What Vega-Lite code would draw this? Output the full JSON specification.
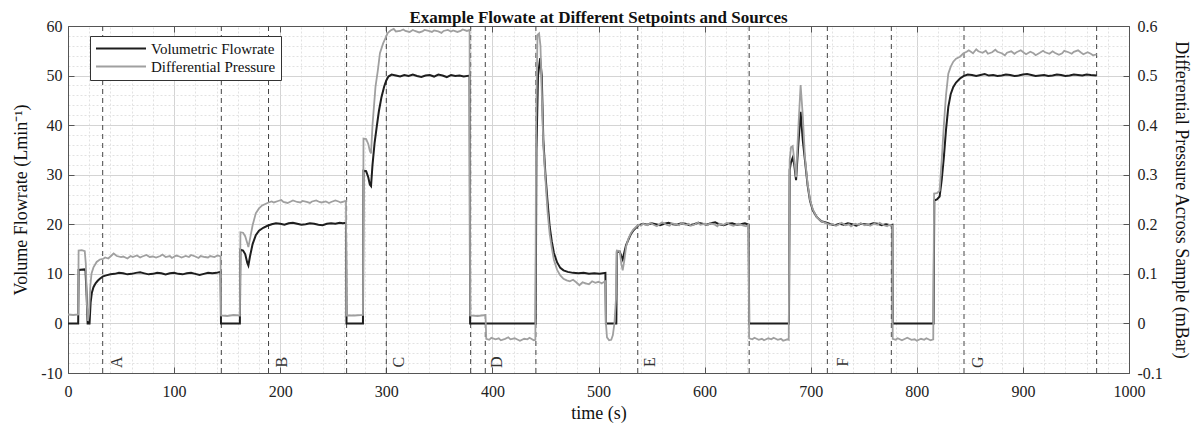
{
  "$schema": "https://vega.github.io/schema/vega-lite/v6.json",
  "width": 1061,
  "height": 347,
  "autosize": {"type": "none"},
  "padding": {"left": 68, "top": 26, "right": 66, "bottom": 52},
  "background": "white",
  "title": {"text": "Example Flowate at Different Setpoints and Sources", "font": "Liberation Serif", "fontSize": 17, "fontWeight": "bold", "color": "#111", "anchor": "middle", "frame": "group", "offset": -9},
  "config": {
    "view": {"stroke": "#555", "strokeWidth": 1},
    "axis": {"labelFont": "Liberation Serif", "titleFont": "Liberation Serif", "labelFontSize": 16, "titleFontSize": 18, "titleFontWeight": "normal", "labelColor": "#222", "titleColor": "#111", "domainColor": "#555", "tickColor": "#555", "labelFlush": false, "labelOverlap": false}
  },
  "datasets": {
    "events": [{"t": 32.7}, {"t": 144.5}, {"t": 189}, {"t": 262.6}, {"t": 300}, {"t": 379.5}, {"t": 393.3}, {"t": 441}, {"t": 537}, {"t": 642}, {"t": 715.7}, {"t": 776}, {"t": 844.5}, {"t": 969.5}],
    "labels": [{"t": 46, "v": -7.8, "s": "A"}, {"t": 202, "v": -7.8, "s": "B"}, {"t": 311.5, "v": -7.8, "s": "C"}, {"t": 404, "v": -7.8, "s": "D"}, {"t": 548.5, "v": -7.8, "s": "E"}, {"t": 730.5, "v": -7.8, "s": "F"}, {"t": 858, "v": -7.8, "s": "G"}],
    "flow": [
      {"t": 0, "v": 0}, {"t": 9.6, "v": 0}, {"t": 10, "v": 10.8}, {"t": 15.8, "v": 10.9}, {"t": 16.5, "v": 10.6}, {"t": 17.5, "v": 6}, {"t": 18.5, "v": 0}, {"t": 20.3, "v": 0}, {"t": 21.3, "v": 4.2}, {"t": 22.5, "v": 6.2}, {"t": 24, "v": 7.3}, {"t": 26, "v": 8.1}, {"t": 28, "v": 8.6}, {"t": 30, "v": 9.0}, {"t": 33, "v": 9.5}, {"t": 36, "v": 9.7}, {"t": 40, "v": 9.9}, {"t": 44, "v": 10.0}, {"t": 48, "v": 10.2}, {"t": 52, "v": 10.1}, {"t": 56, "v": 9.9}, {"t": 60, "v": 10.0}, {"t": 64, "v": 10.2}, {"t": 68, "v": 10.3}, {"t": 72, "v": 10.1}, {"t": 76, "v": 9.9}, {"t": 80, "v": 10.0}, {"t": 84, "v": 10.2}, {"t": 88, "v": 10.1}, {"t": 92, "v": 9.9}, {"t": 96, "v": 10.1}, {"t": 100, "v": 10.2}, {"t": 104, "v": 10.0}, {"t": 108, "v": 9.9}, {"t": 112, "v": 10.1}, {"t": 116, "v": 10.2}, {"t": 120, "v": 10.0}, {"t": 124, "v": 9.8}, {"t": 128, "v": 10.0}, {"t": 132, "v": 10.2}, {"t": 136, "v": 10.1}, {"t": 140, "v": 10.2}, {"t": 143.8, "v": 10.4}, {"t": 144.2, "v": 0},
      {"t": 162, "v": 0}, {"t": 162.5, "v": 14.9}, {"t": 165, "v": 14.7}, {"t": 167, "v": 14.0}, {"t": 169, "v": 12.2}, {"t": 170, "v": 11.7}, {"t": 171.5, "v": 13.5}, {"t": 174, "v": 16.0}, {"t": 177, "v": 17.8}, {"t": 180, "v": 18.7}, {"t": 184, "v": 19.3}, {"t": 188, "v": 19.7}, {"t": 192, "v": 20.0}, {"t": 196, "v": 20.2}, {"t": 200, "v": 20.1}, {"t": 204, "v": 19.9}, {"t": 208, "v": 20.2}, {"t": 212, "v": 20.3}, {"t": 216, "v": 20.1}, {"t": 220, "v": 19.9}, {"t": 224, "v": 20.0}, {"t": 228, "v": 20.2}, {"t": 232, "v": 20.1}, {"t": 236, "v": 19.9}, {"t": 240, "v": 19.8}, {"t": 244, "v": 20.1}, {"t": 248, "v": 20.2}, {"t": 252, "v": 20.1}, {"t": 256, "v": 20.3}, {"t": 259, "v": 20.2}, {"t": 262, "v": 20.3}, {"t": 262.5, "v": 0},
      {"t": 278, "v": 0}, {"t": 278.5, "v": 30.8}, {"t": 281, "v": 30.7}, {"t": 283, "v": 29.5}, {"t": 284.5, "v": 28}, {"t": 285.6, "v": 27.7}, {"t": 287, "v": 32}, {"t": 289, "v": 36.5}, {"t": 291, "v": 39.7}, {"t": 293, "v": 42.8}, {"t": 295.5, "v": 45.7}, {"t": 298, "v": 47.8}, {"t": 300, "v": 49.0}, {"t": 302, "v": 49.8}, {"t": 305, "v": 50.2}, {"t": 309, "v": 50.0}, {"t": 313, "v": 49.8}, {"t": 317, "v": 50.1}, {"t": 321, "v": 49.9}, {"t": 325, "v": 50.2}, {"t": 329, "v": 49.9}, {"t": 333, "v": 49.7}, {"t": 337, "v": 50.0}, {"t": 341, "v": 50.1}, {"t": 345, "v": 49.8}, {"t": 349, "v": 50.2}, {"t": 353, "v": 50.0}, {"t": 357, "v": 49.7}, {"t": 361, "v": 50.1}, {"t": 365, "v": 49.9}, {"t": 369, "v": 50.0}, {"t": 373, "v": 49.8}, {"t": 378.5, "v": 50.0}, {"t": 379, "v": 0},
      {"t": 440.8, "v": 0}, {"t": 441.5, "v": 35}, {"t": 443, "v": 50}, {"t": 445, "v": 53.5}, {"t": 446.5, "v": 50}, {"t": 448, "v": 37}, {"t": 450, "v": 30}, {"t": 452, "v": 24.5}, {"t": 454, "v": 19.5}, {"t": 456, "v": 16.5}, {"t": 458, "v": 14.2}, {"t": 461, "v": 12.3}, {"t": 464, "v": 11.2}, {"t": 467, "v": 10.7}, {"t": 471, "v": 10.4}, {"t": 476, "v": 10.2}, {"t": 481, "v": 10.1}, {"t": 486, "v": 10.2}, {"t": 491, "v": 10.0}, {"t": 496, "v": 10.1}, {"t": 501, "v": 10.0}, {"t": 506.5, "v": 10.2}, {"t": 507, "v": 0},
      {"t": 516.8, "v": 0}, {"t": 517.3, "v": 14.4}, {"t": 520, "v": 14.5}, {"t": 521.5, "v": 13.6}, {"t": 522.8, "v": 12.9}, {"t": 524.2, "v": 14.2}, {"t": 526, "v": 15.8}, {"t": 528, "v": 16.8}, {"t": 530.5, "v": 18.0}, {"t": 533, "v": 18.8}, {"t": 537.5, "v": 19.8}, {"t": 542, "v": 20.1}, {"t": 546, "v": 19.9}, {"t": 550, "v": 20.2}, {"t": 554, "v": 20.0}, {"t": 558, "v": 19.8}, {"t": 562, "v": 20.1}, {"t": 566, "v": 20.3}, {"t": 570, "v": 20.0}, {"t": 574, "v": 19.9}, {"t": 578, "v": 20.2}, {"t": 582, "v": 20.1}, {"t": 586, "v": 19.8}, {"t": 590, "v": 20.0}, {"t": 594, "v": 20.3}, {"t": 598, "v": 20.1}, {"t": 602, "v": 19.9}, {"t": 606, "v": 20.2}, {"t": 610, "v": 20.4}, {"t": 614, "v": 20.0}, {"t": 618, "v": 19.8}, {"t": 622, "v": 20.1}, {"t": 626, "v": 20.2}, {"t": 630, "v": 19.9}, {"t": 634, "v": 20.0}, {"t": 638, "v": 20.2}, {"t": 641.5, "v": 19.9}, {"t": 642, "v": 0},
      {"t": 679.5, "v": 0}, {"t": 680.2, "v": 31}, {"t": 681.5, "v": 32.6}, {"t": 683, "v": 33.4}, {"t": 684.5, "v": 32}, {"t": 686.2, "v": 28.9}, {"t": 688, "v": 35}, {"t": 690.5, "v": 42.7}, {"t": 692.5, "v": 37}, {"t": 694.6, "v": 32.9}, {"t": 697, "v": 28}, {"t": 699.3, "v": 24.8}, {"t": 702, "v": 22.8}, {"t": 705.6, "v": 21.5}, {"t": 710, "v": 20.6}, {"t": 715, "v": 20.3}, {"t": 719, "v": 20.0}, {"t": 723, "v": 19.8}, {"t": 727, "v": 20.1}, {"t": 731, "v": 19.9}, {"t": 735, "v": 20.2}, {"t": 739, "v": 20.0}, {"t": 743, "v": 19.7}, {"t": 747, "v": 20.1}, {"t": 751, "v": 20.0}, {"t": 755, "v": 19.9}, {"t": 759, "v": 20.2}, {"t": 763, "v": 20.1}, {"t": 767, "v": 19.8}, {"t": 771, "v": 20.0}, {"t": 775, "v": 19.8}, {"t": 777, "v": 19.9}, {"t": 777.3, "v": 0},
      {"t": 815.8, "v": 0}, {"t": 816.5, "v": 24.8}, {"t": 819, "v": 25.0}, {"t": 821.5, "v": 25.6}, {"t": 823.5, "v": 29}, {"t": 825.5, "v": 33.5}, {"t": 827.5, "v": 39}, {"t": 829.7, "v": 43.7}, {"t": 832, "v": 46.3}, {"t": 834.4, "v": 47.7}, {"t": 837, "v": 48.6}, {"t": 840.7, "v": 49.4}, {"t": 844, "v": 49.9}, {"t": 848, "v": 50.2}, {"t": 852, "v": 50.1}, {"t": 856, "v": 49.9}, {"t": 860, "v": 50.1}, {"t": 864, "v": 50.3}, {"t": 868, "v": 50.0}, {"t": 872, "v": 50.1}, {"t": 876, "v": 49.9}, {"t": 880, "v": 50.0}, {"t": 884, "v": 50.2}, {"t": 888, "v": 50.1}, {"t": 892, "v": 49.9}, {"t": 896, "v": 50.0}, {"t": 900, "v": 50.2}, {"t": 904, "v": 50.3}, {"t": 908, "v": 50.1}, {"t": 912, "v": 49.9}, {"t": 916, "v": 50.0}, {"t": 920, "v": 50.1}, {"t": 924, "v": 49.9}, {"t": 928, "v": 50.0}, {"t": 932, "v": 50.2}, {"t": 936, "v": 50.1}, {"t": 940, "v": 49.9}, {"t": 944, "v": 50.0}, {"t": 948, "v": 50.2}, {"t": 952, "v": 50.1}, {"t": 956, "v": 50.0}, {"t": 960, "v": 50.2}, {"t": 964, "v": 50.1}, {"t": 969.5, "v": 50.0}
    ],
    "dp": [
      {"t": 0, "p": 0.018}, {"t": 5, "p": 0.017}, {"t": 9.6, "p": 0.018}, {"t": 10, "p": 0.147}, {"t": 13, "p": 0.148}, {"t": 15.8, "p": 0.146}, {"t": 16.8, "p": 0.12}, {"t": 17.8, "p": 0.04}, {"t": 18.8, "p": 0.005}, {"t": 19.8, "p": 0.02}, {"t": 21, "p": 0.075}, {"t": 22.2, "p": 0.101}, {"t": 24, "p": 0.113}, {"t": 27, "p": 0.124}, {"t": 30, "p": 0.129}, {"t": 33, "p": 0.130}, {"t": 35, "p": 0.133}, {"t": 38, "p": 0.131}, {"t": 41, "p": 0.137}, {"t": 43, "p": 0.141}, {"t": 46, "p": 0.136}, {"t": 50, "p": 0.134}, {"t": 52, "p": 0.135}, {"t": 56, "p": 0.131}, {"t": 59, "p": 0.136}, {"t": 61, "p": 0.134}, {"t": 65, "p": 0.137}, {"t": 68, "p": 0.133}, {"t": 70, "p": 0.135}, {"t": 74, "p": 0.138}, {"t": 77, "p": 0.134}, {"t": 80, "p": 0.135}, {"t": 83, "p": 0.133}, {"t": 87, "p": 0.136}, {"t": 89, "p": 0.139}, {"t": 92, "p": 0.134}, {"t": 96, "p": 0.136}, {"t": 98, "p": 0.132}, {"t": 102, "p": 0.137}, {"t": 105, "p": 0.135}, {"t": 107, "p": 0.133}, {"t": 111, "p": 0.136}, {"t": 114, "p": 0.134}, {"t": 116, "p": 0.138}, {"t": 120, "p": 0.135}, {"t": 123, "p": 0.132}, {"t": 125, "p": 0.136}, {"t": 129, "p": 0.134}, {"t": 132, "p": 0.133}, {"t": 134, "p": 0.136}, {"t": 138, "p": 0.134}, {"t": 141, "p": 0.137}, {"t": 143.8, "p": 0.135}, {"t": 144.2, "p": 0.016}, {"t": 150, "p": 0.015}, {"t": 156, "p": 0.017}, {"t": 162, "p": 0.016},
      {"t": 162.5, "p": 0.184}, {"t": 165, "p": 0.183}, {"t": 167, "p": 0.176}, {"t": 169, "p": 0.162}, {"t": 170, "p": 0.154}, {"t": 171.5, "p": 0.170}, {"t": 174, "p": 0.198}, {"t": 177, "p": 0.222}, {"t": 180, "p": 0.232}, {"t": 183, "p": 0.238}, {"t": 186, "p": 0.241}, {"t": 189, "p": 0.244}, {"t": 192, "p": 0.246}, {"t": 194, "p": 0.244}, {"t": 198, "p": 0.247}, {"t": 201, "p": 0.249}, {"t": 203, "p": 0.245}, {"t": 207, "p": 0.243}, {"t": 210, "p": 0.246}, {"t": 212, "p": 0.248}, {"t": 216, "p": 0.245}, {"t": 219, "p": 0.244}, {"t": 221, "p": 0.247}, {"t": 225, "p": 0.245}, {"t": 228, "p": 0.243}, {"t": 230, "p": 0.246}, {"t": 234, "p": 0.248}, {"t": 237, "p": 0.245}, {"t": 239, "p": 0.244}, {"t": 243, "p": 0.246}, {"t": 246, "p": 0.243}, {"t": 248, "p": 0.245}, {"t": 252, "p": 0.248}, {"t": 255, "p": 0.246}, {"t": 257, "p": 0.244}, {"t": 262, "p": 0.247}, {"t": 262.5, "p": 0.016}, {"t": 270, "p": 0.016}, {"t": 278, "p": 0.017},
      {"t": 278.5, "p": 0.373}, {"t": 281, "p": 0.372}, {"t": 283, "p": 0.362}, {"t": 284.5, "p": 0.348}, {"t": 285.6, "p": 0.343}, {"t": 287, "p": 0.40}, {"t": 289.8, "p": 0.477}, {"t": 292, "p": 0.51}, {"t": 294, "p": 0.545}, {"t": 297, "p": 0.565}, {"t": 301.4, "p": 0.586}, {"t": 304, "p": 0.591}, {"t": 307, "p": 0.594}, {"t": 309, "p": 0.589}, {"t": 313, "p": 0.590}, {"t": 316, "p": 0.593}, {"t": 318, "p": 0.590}, {"t": 322, "p": 0.588}, {"t": 325, "p": 0.592}, {"t": 327, "p": 0.590}, {"t": 331, "p": 0.587}, {"t": 334, "p": 0.589}, {"t": 336, "p": 0.592}, {"t": 340, "p": 0.590}, {"t": 343, "p": 0.588}, {"t": 345, "p": 0.591}, {"t": 349, "p": 0.589}, {"t": 352, "p": 0.586}, {"t": 354, "p": 0.590}, {"t": 358, "p": 0.592}, {"t": 361, "p": 0.589}, {"t": 363, "p": 0.591}, {"t": 367, "p": 0.588}, {"t": 370, "p": 0.590}, {"t": 372, "p": 0.593}, {"t": 376, "p": 0.590}, {"t": 378.5, "p": 0.592}, {"t": 379, "p": 0.016}, {"t": 386, "p": 0.015}, {"t": 393.5, "p": 0.017},
      {"t": 394.2, "p": -0.031}, {"t": 397, "p": -0.033}, {"t": 399, "p": -0.029}, {"t": 403, "p": -0.032}, {"t": 406, "p": -0.030}, {"t": 408, "p": -0.034}, {"t": 412, "p": -0.031}, {"t": 415, "p": -0.028}, {"t": 417, "p": -0.032}, {"t": 421, "p": -0.030}, {"t": 424, "p": -0.033}, {"t": 426, "p": -0.035}, {"t": 430, "p": -0.031}, {"t": 433, "p": -0.032}, {"t": 435, "p": -0.029}, {"t": 439, "p": -0.034}, {"t": 440.5, "p": -0.033},
      {"t": 441.2, "p": 0.40}, {"t": 442.5, "p": 0.582}, {"t": 444, "p": 0.585}, {"t": 445.3, "p": 0.56}, {"t": 446.5, "p": 0.47}, {"t": 448, "p": 0.36}, {"t": 450, "p": 0.29}, {"t": 452, "p": 0.225}, {"t": 454, "p": 0.18}, {"t": 456, "p": 0.152}, {"t": 458, "p": 0.128}, {"t": 461, "p": 0.108}, {"t": 464, "p": 0.097}, {"t": 467, "p": 0.090}, {"t": 470, "p": 0.087}, {"t": 473, "p": 0.085}, {"t": 476, "p": 0.088}, {"t": 479, "p": 0.083}, {"t": 482, "p": 0.077}, {"t": 485, "p": 0.083}, {"t": 488, "p": 0.081}, {"t": 491, "p": 0.079}, {"t": 494, "p": 0.085}, {"t": 497, "p": 0.082}, {"t": 500, "p": 0.084}, {"t": 503, "p": 0.081}, {"t": 506.5, "p": 0.085},
      {"t": 507, "p": 0.0}, {"t": 508, "p": -0.028}, {"t": 510, "p": -0.034}, {"t": 512, "p": -0.033}, {"t": 513.5, "p": -0.024}, {"t": 515, "p": 0.0}, {"t": 516.5, "p": 0.05}, {"t": 517.3, "p": 0.147}, {"t": 520, "p": 0.146}, {"t": 521.5, "p": 0.12}, {"t": 522.8, "p": 0.107}, {"t": 524.2, "p": 0.125}, {"t": 526, "p": 0.155}, {"t": 528, "p": 0.170}, {"t": 530.5, "p": 0.182}, {"t": 533, "p": 0.190}, {"t": 537.5, "p": 0.199},
      {"t": 540, "p": 0.197}, {"t": 542, "p": 0.201}, {"t": 546, "p": 0.198}, {"t": 549, "p": 0.203}, {"t": 551, "p": 0.200}, {"t": 555, "p": 0.196}, {"t": 558, "p": 0.201}, {"t": 560, "p": 0.204}, {"t": 564, "p": 0.199}, {"t": 567, "p": 0.197}, {"t": 569, "p": 0.202}, {"t": 573, "p": 0.200}, {"t": 576, "p": 0.198}, {"t": 578, "p": 0.203}, {"t": 582, "p": 0.199}, {"t": 585, "p": 0.201}, {"t": 587, "p": 0.197}, {"t": 591, "p": 0.200}, {"t": 594, "p": 0.204}, {"t": 596, "p": 0.199}, {"t": 600, "p": 0.201}, {"t": 603, "p": 0.198}, {"t": 605, "p": 0.202}, {"t": 609, "p": 0.200}, {"t": 612, "p": 0.196}, {"t": 614, "p": 0.201}, {"t": 618, "p": 0.199}, {"t": 621, "p": 0.203}, {"t": 623, "p": 0.200}, {"t": 627, "p": 0.197}, {"t": 630, "p": 0.199}, {"t": 632, "p": 0.201}, {"t": 636, "p": 0.198}, {"t": 639, "p": 0.196}, {"t": 641.5, "p": 0.199},
      {"t": 642, "p": -0.030}, {"t": 645, "p": -0.032}, {"t": 647, "p": -0.029}, {"t": 651, "p": -0.033}, {"t": 654, "p": -0.031}, {"t": 656, "p": -0.034}, {"t": 660, "p": -0.030}, {"t": 663, "p": -0.032}, {"t": 665, "p": -0.029}, {"t": 669, "p": -0.033}, {"t": 672, "p": -0.031}, {"t": 674, "p": -0.035}, {"t": 678, "p": -0.032}, {"t": 679.3, "p": -0.033},
      {"t": 680.2, "p": 0.33}, {"t": 681.5, "p": 0.356}, {"t": 683, "p": 0.358}, {"t": 684.5, "p": 0.33}, {"t": 686.2, "p": 0.295}, {"t": 688, "p": 0.38}, {"t": 690.5, "p": 0.481}, {"t": 692.5, "p": 0.42}, {"t": 694.6, "p": 0.335}, {"t": 697, "p": 0.283}, {"t": 699.3, "p": 0.25}, {"t": 702, "p": 0.23}, {"t": 705.6, "p": 0.215}, {"t": 710, "p": 0.206}, {"t": 715, "p": 0.202}, {"t": 718, "p": 0.199}, {"t": 720, "p": 0.201}, {"t": 724, "p": 0.197}, {"t": 727, "p": 0.200}, {"t": 729, "p": 0.203}, {"t": 733, "p": 0.198}, {"t": 736, "p": 0.200}, {"t": 738, "p": 0.196}, {"t": 742, "p": 0.201}, {"t": 745, "p": 0.199}, {"t": 747, "p": 0.202}, {"t": 751, "p": 0.198}, {"t": 754, "p": 0.200}, {"t": 756, "p": 0.197}, {"t": 760, "p": 0.201}, {"t": 763, "p": 0.199}, {"t": 765, "p": 0.203}, {"t": 769, "p": 0.198}, {"t": 772, "p": 0.196}, {"t": 774, "p": 0.199}, {"t": 777, "p": 0.197},
      {"t": 777.3, "p": -0.031}, {"t": 780, "p": -0.033}, {"t": 782, "p": -0.030}, {"t": 786, "p": -0.034}, {"t": 789, "p": -0.031}, {"t": 791, "p": -0.029}, {"t": 795, "p": -0.033}, {"t": 798, "p": -0.032}, {"t": 800, "p": -0.035}, {"t": 804, "p": -0.031}, {"t": 807, "p": -0.033}, {"t": 809, "p": -0.030}, {"t": 813, "p": -0.034}, {"t": 815.5, "p": -0.032},
      {"t": 816.3, "p": 0.262}, {"t": 819, "p": 0.263}, {"t": 821.5, "p": 0.268}, {"t": 823.5, "p": 0.33}, {"t": 825.5, "p": 0.40}, {"t": 827.5, "p": 0.46}, {"t": 829.7, "p": 0.504}, {"t": 832, "p": 0.518}, {"t": 834.4, "p": 0.528}, {"t": 837, "p": 0.534}, {"t": 840.7, "p": 0.538}, {"t": 844, "p": 0.545}, {"t": 847, "p": 0.548}, {"t": 849, "p": 0.551}, {"t": 853, "p": 0.545}, {"t": 856, "p": 0.553}, {"t": 858, "p": 0.549}, {"t": 862, "p": 0.546}, {"t": 865, "p": 0.550}, {"t": 867, "p": 0.544}, {"t": 871, "p": 0.547}, {"t": 874, "p": 0.552}, {"t": 876, "p": 0.548}, {"t": 880, "p": 0.545}, {"t": 883, "p": 0.541}, {"t": 885, "p": 0.546}, {"t": 889, "p": 0.549}, {"t": 892, "p": 0.544}, {"t": 894, "p": 0.547}, {"t": 898, "p": 0.551}, {"t": 901, "p": 0.546}, {"t": 903, "p": 0.543}, {"t": 907, "p": 0.548}, {"t": 910, "p": 0.545}, {"t": 912, "p": 0.541}, {"t": 916, "p": 0.546}, {"t": 919, "p": 0.550}, {"t": 921, "p": 0.547}, {"t": 925, "p": 0.544}, {"t": 928, "p": 0.549}, {"t": 930, "p": 0.546}, {"t": 934, "p": 0.542}, {"t": 937, "p": 0.545}, {"t": 939, "p": 0.550}, {"t": 943, "p": 0.547}, {"t": 946, "p": 0.544}, {"t": 948, "p": 0.548}, {"t": 952, "p": 0.551}, {"t": 955, "p": 0.546}, {"t": 957, "p": 0.543}, {"t": 961, "p": 0.547}, {"t": 964, "p": 0.544}, {"t": 966, "p": 0.541}, {"t": 969.5, "p": 0.543}
    ]
  },
  "layer": [
    {
      "data": {"name": "events"},
      "mark": {"type": "rule", "strokeDash": [5, 4], "color": "#444", "strokeWidth": 1},
      "encoding": {
        "x": {
          "field": "t", "type": "quantitative",
          "scale": {"domain": [0, 1000], "nice": false},
          "axis": {
            "orient": "bottom", "title": "time (s)", "format": "d",
            "values": [0, 20, 40, 60, 80, 100, 120, 140, 160, 180, 200, 220, 240, 260, 280, 300, 320, 340, 360, 380, 400, 420, 440, 460, 480, 500, 520, 540, 560, 580, 600, 620, 640, 660, 680, 700, 720, 740, 760, 780, 800, 820, 840, 860, 880, 900, 920, 940, 960, 980, 1000],
            "grid": true,
            "gridColor": {"condition": {"test": "datum.value % 100 === 0", "value": "#d4d4d4"}, "value": "#e2e2e2"},
            "gridDash": {"condition": {"test": "datum.value % 100 === 0", "value": []}, "value": [2, 2]},
            "tickSize": -6,
            "tickOpacity": {"condition": {"test": "datum.value % 100 === 0", "value": 1}, "value": 0},
            "labelExpr": "datum.value % 100 === 0 ? datum.label : ''",
            "labelPadding": 16,
            "titlePadding": 5
          }
        }
      }
    },
    {
      "data": {"name": "flow"},
      "mark": {"type": "line", "strokeWidth": 2},
      "encoding": {
        "x": {
          "field": "t", "type": "quantitative",
          "scale": {"domain": [0, 1000], "nice": false},
          "axis": {"orient": "top", "title": null, "values": [100, 200, 300, 400, 500, 600, 700, 800, 900], "labels": false, "grid": false, "tickSize": -6}
        },
        "y": {
          "field": "v", "type": "quantitative",
          "scale": {"domain": [-10, 60], "nice": false, "zero": false},
          "axis": {
            "orient": "left", "title": "Volume Flowrate (Lmin⁻¹)",
            "values": [-10, -8, -6, -4, -2, 0, 2, 4, 6, 8, 10, 12, 14, 16, 18, 20, 22, 24, 26, 28, 30, 32, 34, 36, 38, 40, 42, 44, 46, 48, 50, 52, 54, 56, 58, 60],
            "grid": true,
            "gridColor": {"condition": {"test": "datum.value % 10 === 0", "value": "#d4d4d4"}, "value": "#e2e2e2"},
            "gridDash": {"condition": {"test": "datum.value % 10 === 0", "value": []}, "value": [2, 2]},
            "tickSize": -6,
            "tickOpacity": {"condition": {"test": "datum.value % 10 === 0", "value": 1}, "value": 0},
            "labelExpr": "datum.value % 10 === 0 ? (datum.value < 0 ? '-' + format(-datum.value, 'd') : format(datum.value, 'd')) : ''",
            "labelPadding": 12,
            "titlePadding": 10
          }
        },
        "color": {
          "datum": "Volumetric Flowrate", "type": "nominal",
          "scale": {"domain": ["Volumetric Flowrate", "Differential Pressure"], "range": ["#1e1e1e", "#a0a0a0"]},
          "legend": {
            "title": null, "orient": "none", "legendX": 22, "legendY": 10,
            "fillColor": "white", "strokeColor": "#333", "padding": 5,
            "symbolType": "stroke", "symbolSize": 2500, "symbolStrokeWidth": 2, "clipHeight": 15,
            "labelFont": "Liberation Serif", "labelFontSize": 15, "labelColor": "#111", "labelOffset": 4, "rowPadding": 2
          }
        }
      }
    },
    {
      "data": {"name": "dp"},
      "mark": {"type": "line", "strokeWidth": 1.8},
      "encoding": {
        "x": {"field": "t", "type": "quantitative", "scale": {"domain": [0, 1000], "nice": false}, "axis": null},
        "y": {
          "field": "p", "type": "quantitative",
          "scale": {"domain": [-0.1, 0.6], "nice": false, "zero": false},
          "axis": {
            "orient": "right", "title": "Differential Pressure Across Sample (mBar)",
            "values": [-0.1, 0, 0.1, 0.2, 0.3, 0.4, 0.5, 0.6],
            "grid": false, "tickSize": -6,
            "labelExpr": "datum.value === 0 ? '0' : (datum.value < 0 ? '-' + format(-datum.value, '.1f') : format(datum.value, '.1f'))",
            "labelPadding": 14,
            "titlePadding": 9
          }
        },
        "color": {"datum": "Differential Pressure", "type": "nominal"}
      }
    },
    {
      "data": {"name": "labels"},
      "mark": {"type": "text", "angle": 270, "font": "Liberation Serif", "fontSize": 16, "color": "#333", "align": "center", "baseline": "middle"},
      "encoding": {
        "x": {"field": "t", "type": "quantitative", "scale": {"domain": [0, 1000], "nice": false}, "axis": null},
        "y": {"field": "v", "type": "quantitative", "scale": {"domain": [-10, 60], "nice": false, "zero": false}, "axis": null},
        "text": {"field": "s"}
      }
    }
  ],
  "resolve": {"scale": {"y": "independent"}, "axis": {"x": "independent", "y": "independent"}}
}
